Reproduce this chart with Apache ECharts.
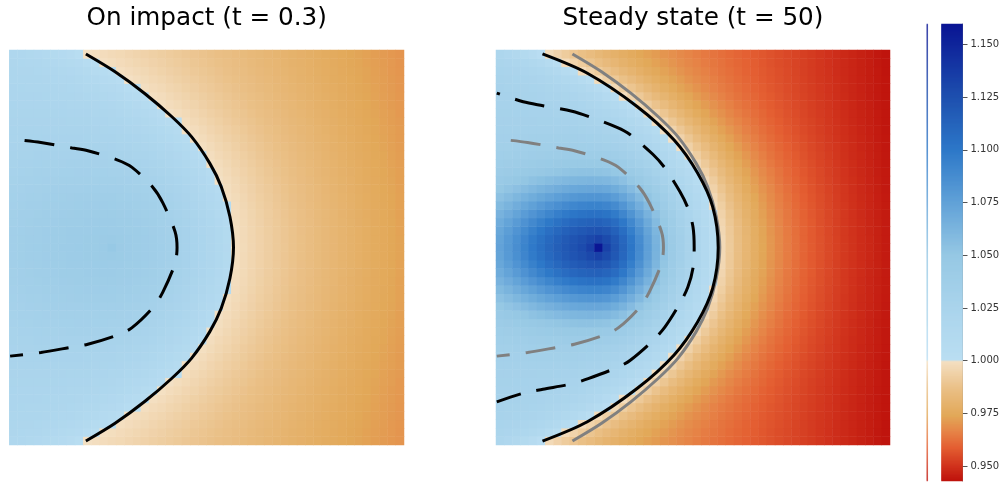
<!DOCTYPE html>
<html><head><meta charset="utf-8">
<script src="https://cdn.jsdelivr.net/npm/echarts@6/dist/echarts.min.js"></script>
<style>html,body{margin:0;padding:0;background:#fff}#c{width:1006px;height:482px}</style>
</head><body><div id="c"></div>
<script>
// ---------- text ----------
const TITLES = ['On impact (t = 0.3)', 'Steady state (t = 50)'];

// ---------- grid of cells ----------
const NX = 48, NY = 47;

// ---------- colour scale ----------
const CB_RANGE = [0.9429, 1.1597];
const CB_TICKS = [0.950, 0.975, 1.000, 1.025, 1.050, 1.075, 1.100, 1.125, 1.150];
const CMAP_VALUES = [0.943, 0.950, 0.959, 0.966, 0.974, 0.987, 0.99999, 1.00001, 1.025, 1.050, 1.076, 1.100, 1.125, 1.159];
const CMAP_COLORS = ['#be120c', '#d0321c', '#e45f32', '#e68246', '#e2a858', '#eac087', '#f4e0c3',
                     '#badef2', '#aad4ec', '#96c8e4', '#5fa0d7', '#2d78c8', '#1e50af', '#0a1694'];

// ---------- field description ----------
// boundary (value 1.0): apex x, y^2 coeff, y^4 coeff
const T03_BOUNDARY = [0.568, 1.252, 1.274];
const T50_BOUNDARY = [0.564, 1.360, 2.074];
// orange side: value at left, value at right, decay length from boundary
const T03_ORANGE = [1.000, 0.969, 0.20];
const T50_ORANGE = [0.986, 0.943, 0.12];
// blue side plateau: height, decay length
const T03_BLUE = [0.022, 0.12];
const T50_BLUE = [0.030, 0.10];
// bump: centre x, amplitude, width left, width right, width y, peak amplitude, peak width
const T03_BUMP = [0.2604, 0.022, 0.35, 0.30, 0.25, 0.006, 0.012];
const T50_BUMP = [0.2604, 0.099, 0.28, 0.155, 0.165, 0.0314, 0.015];

// ---------- contour lines (x 0..1, y -0.5..0.5) ----------
const T03_SOLID = [[0.194,-0.49],[0.268,-0.445],[0.343,-0.39],[0.412,-0.331],[0.462,-0.28],[0.508,-0.213],[0.537,-0.154],[0.559,-0.078],[0.568,0],
                   [0.559,0.078],[0.537,0.154],[0.508,0.213],[0.462,0.28],[0.412,0.331],[0.343,0.39],[0.268,0.445],[0.194,0.49]];
const T03_DASHED = [[0.002,-0.275],[0.08,-0.266],[0.159,-0.252],[0.199,-0.245],[0.273,-0.222],[0.311,-0.203],[0.364,-0.152],[0.389,-0.113],[0.42,-0.04],[0.425,0],
                    [0.42,0.04],[0.389,0.113],[0.364,0.152],[0.311,0.203],[0.273,0.222],[0.199,0.245],[0.159,0.252],[0.08,0.266],[0.002,0.275]];
const T50_SOLID = [[0.118,-0.49],[0.232,-0.441],[0.358,-0.357],[0.452,-0.272],[0.512,-0.188],[0.55,-0.103],[0.564,0],
                   [0.55,0.103],[0.512,0.188],[0.452,0.272],[0.358,0.357],[0.232,0.441],[0.118,0.49]];
const T50_DASHED = [[0.002,-0.391],[0.069,-0.369],[0.119,-0.359],[0.193,-0.345],[0.234,-0.332],[0.307,-0.304],[0.34,-0.286],[0.398,-0.236],[0.429,-0.201],[0.467,-0.141],[0.487,-0.1],[0.5,-0.052],[0.503,0],
                    [0.5,0.052],[0.487,0.1],[0.467,0.141],[0.429,0.201],[0.398,0.236],[0.34,0.286],[0.307,0.304],[0.234,0.332],[0.193,0.345],[0.119,0.359],[0.069,0.369],[0.002,0.391]];

// ---------- helpers ----------
function hexToRgb(h){return [parseInt(h.substr(1,2),16),parseInt(h.substr(3,2),16),parseInt(h.substr(5,2),16)];}
const CMAP_RGB = CMAP_COLORS.map(hexToRgb);
function colorAt(v){
  if (v <= CMAP_VALUES[0]) return CMAP_COLORS[0];
  for (let k = 1; k < CMAP_VALUES.length; k++){
    if (v <= CMAP_VALUES[k]){
      const t = (v - CMAP_VALUES[k-1])/(CMAP_VALUES[k]-CMAP_VALUES[k-1]);
      const a = CMAP_RGB[k-1], b = CMAP_RGB[k];
      return 'rgb(' + a.map((c,i)=>Math.round(c+(b[i]-c)*t)).join(',') + ')';
    }
  }
  return CMAP_COLORS[CMAP_COLORS.length-1];
}
function fieldValue(bnd, org, blue, bump, X, Y){
  const Y2 = Y*Y;
  const xc = bnd[0] - bnd[1]*Y2 - bnd[2]*Y2*Y2;
  const d = X - xc;
  if (d >= 0){
    const E = org[0] + (org[1]-org[0])*X;
    return E + (1-E)*Math.exp(-d/org[2]);
  }
  const base = 1 + blue[0]*(1 - Math.exp(d/blue[1]));
  const dx = X - bump[0];
  const lx = dx < 0 ? bump[2] : bump[3];
  const g = bump[1]*Math.exp(-(dx*dx/(lx*lx) + Y2/(bump[4]*bump[4])));
  const n = bump[5]*Math.exp(-Math.sqrt(dx*dx+Y2)/bump[6]);
  return base + g + n;
}
function buildGrid(bnd, org, blue, bump){
  const out = [];
  for (let i = 0; i < NX; i++) for (let j = 0; j < NY; j++){
    const X = (i+0.5)/NX, Y = -0.5 + (j+0.5)/NY;
    out.push([i, j, +fieldValue(bnd, org, blue, bump, X, Y).toFixed(5)]);
  }
  return out;
}
const dataT03 = buildGrid(T03_BOUNDARY, T03_ORANGE, T03_BLUE, T03_BUMP);
const dataT50 = buildGrid(T50_BOUNDARY, T50_ORANGE, T50_BLUE, T50_BUMP);

const CB_ROWS = 457;
const cbData = [];
for (let k = 0; k < CB_ROWS; k++) cbData.push([0, k, CB_RANGE[0] + (k+0.5)*(CB_RANGE[1]-CB_RANGE[0])/CB_ROWS]);

const vmColors = [];
const NC = 1500;
for (let k = 0; k <= NC; k++) vmColors.push(colorAt(CB_RANGE[0] + k*(CB_RANGE[1]-CB_RANGE[0])/NC));

const xCats = Array.from({length: NX}, (_, i) => i);
const yCats = Array.from({length: NY}, (_, j) => j);
const cbCats = Array.from({length: CB_ROWS}, (_, k) => k);

function catAxis(grid, data){ return {type:'category', gridIndex:grid, data:data, show:false}; }
function valAxis(grid, min, max){ return {type:'value', gridIndex:grid, min:min, max:max, show:false}; }

function contour(data, xi, yi, color, dashed, offset){
  return {type:'line', xAxisIndex:xi, yAxisIndex:yi, data:data, showSymbol:false, symbol:'none',
          smooth:0.3, silent:true, clip:false, z:5,
          lineStyle:{color:color, width:3, type: dashed ? [30,16] : 'solid', dashOffset: offset||0, cap:'butt'}};
}

const FONT = 'DejaVu Sans';
const option = {
  animation:false,
  backgroundColor:'#fff',
  grid:[
    {left:9.3, top:50, width:394.7, height:395},
    {left:496, top:50, width:394, height:395},
    {left:941.5, top:24, width:21, height:457},
    {left:926.8, top:24, width:1, height:457}
  ],
  xAxis:[
    catAxis(0, xCats), valAxis(0, 0, 1),
    catAxis(1, xCats), valAxis(1, 0, 1),
    catAxis(2, ['cb']), catAxis(3, ['cb'])
  ],
  yAxis:[
    catAxis(0, yCats), valAxis(0, -0.5, 0.5),
    catAxis(1, yCats), valAxis(1, -0.5, 0.5),
    catAxis(2, cbCats),
    {type:'value', gridIndex:2, min:CB_RANGE[0], max:CB_RANGE[1], position:'right',
     axisLine:{show:true, lineStyle:{color:'#8a8a8a', width:1}},
     axisTick:{show:true, inside:false, length:5, customValues:CB_TICKS, lineStyle:{color:'#555'}},
     axisLabel:{show:true, customValues:CB_TICKS, margin:8, fontSize:10, fontFamily:FONT, color:'#333',
                formatter:(v)=>Number(v).toFixed(3)},
     splitLine:{show:false}},
    catAxis(3, cbCats)
  ],
  visualMap:{type:'continuous', show:false, dimension:2, min:CB_RANGE[0], max:CB_RANGE[1],
             seriesIndex:[0,1,8,9], inRange:{color:vmColors}},
  series:[
    {type:'heatmap', xAxisIndex:0, yAxisIndex:0, data:dataT03, progressive:0, silent:true},
    {type:'heatmap', xAxisIndex:2, yAxisIndex:2, data:dataT50, progressive:0, silent:true},
    contour(T03_SOLID, 1, 1, '#000', false),
    contour(T03_DASHED, 1, 1, '#000', true, 17),
    contour(T03_SOLID, 3, 3, '#808080', false),
    contour(T03_DASHED, 3, 3, '#808080', true, 17),
    contour(T50_SOLID, 3, 3, '#000', false),
    contour(T50_DASHED, 3, 3, '#000', true, 5),
    {type:'heatmap', xAxisIndex:4, yAxisIndex:4, data:cbData, progressive:0, silent:true},
    {type:'heatmap', xAxisIndex:5, yAxisIndex:6, data:cbData, progressive:0, silent:true, itemStyle:{opacity:0.7}}
  ],
  graphic:[
    {type:'text', x:206.7, y:19, silent:true,
     style:{text:TITLES[0], fontSize:24.7, fontFamily:FONT, fill:'#000', align:'center', verticalAlign:'middle'}},
    {type:'text', x:693, y:19, silent:true,
     style:{text:TITLES[1], fontSize:24.7, fontFamily:FONT, fill:'#000', align:'center', verticalAlign:'middle'}}
  ]
};
const chart = echarts.init(document.getElementById('c'), null, {renderer:'canvas'});
chart.setOption(option);
</script>
</body></html>
